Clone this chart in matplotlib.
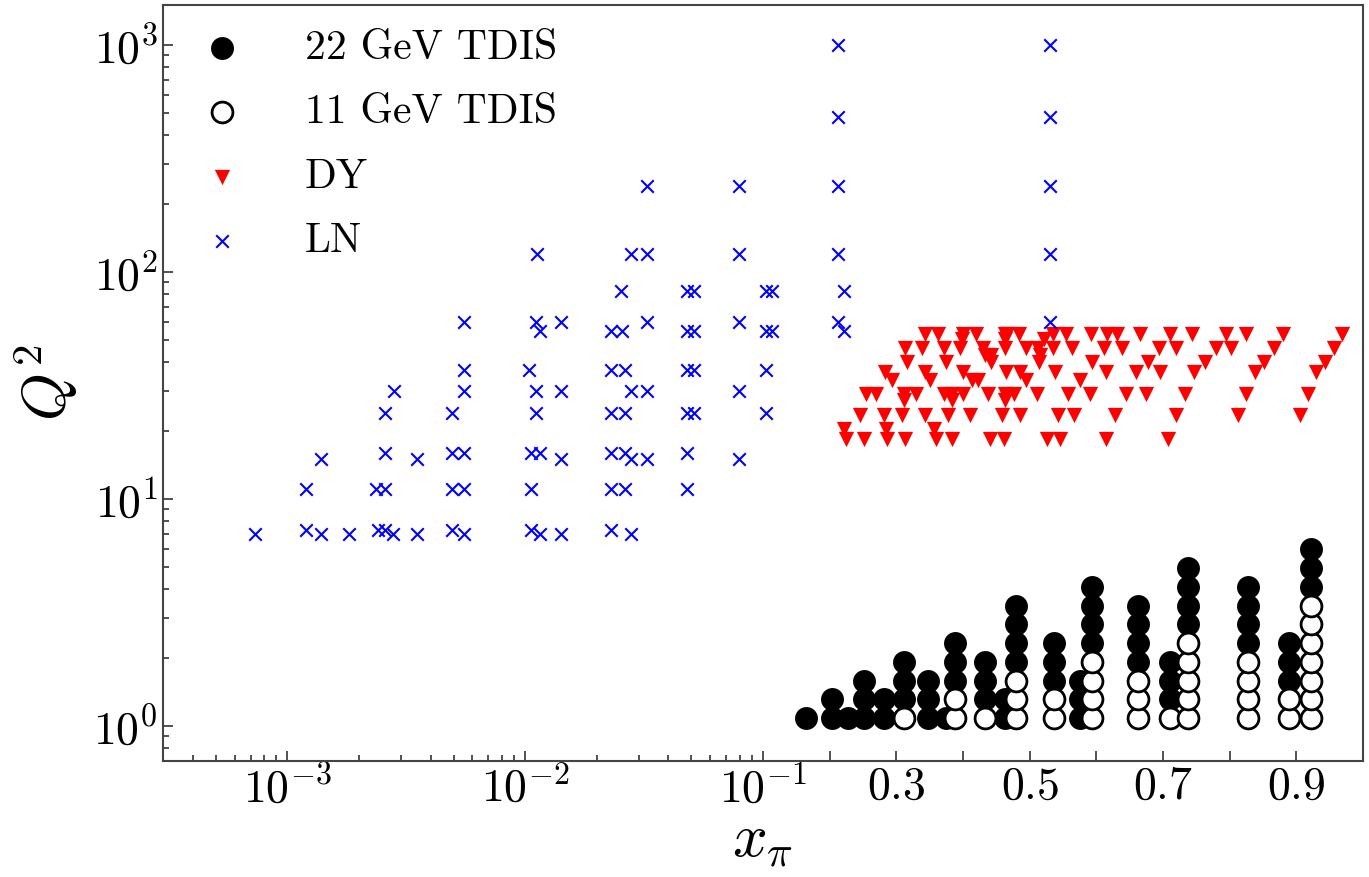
import numpy as np
import matplotlib.pyplot as plt
from matplotlib.ticker import FixedLocator, FixedFormatter

# Q2 levels of the TDIS bins (bottom to top)
q2_rows = [1.08, 1.31, 1.58, 1.91, 2.31, 2.80, 3.39, 4.10, 4.96, 6.0]

# 22 GeV TDIS (filled): x and row index
tdis22_x = [0.164, 0.203, 0.203, 0.227, 0.251, 0.251, 0.251, 0.281, 0.281,
            0.312, 0.312, 0.312, 0.348, 0.348, 0.348, 0.374, 0.388, 0.388, 0.388,
            0.433, 0.433, 0.433, 0.463, 0.463, 0.479, 0.479, 0.479, 0.479,
            0.536, 0.536, 0.536, 0.576, 0.576, 0.576, 0.594, 0.594, 0.594, 0.594,
            0.663, 0.663, 0.663, 0.663, 0.710, 0.710, 0.710, 0.738, 0.738, 0.738, 0.738,
            0.828, 0.828, 0.828, 0.828, 0.889, 0.889, 0.889, 0.922, 0.922, 0.922]
tdis22_r = [0, 0, 1, 0, 0, 1, 2, 0, 1,
            1, 2, 3, 0, 1, 2, 0, 2, 3, 4,
            1, 2, 3, 0, 1, 3, 4, 5, 6,
            2, 3, 4, 0, 1, 2, 4, 5, 6, 7,
            3, 4, 5, 6, 1, 2, 3, 5, 6, 7, 8,
            4, 5, 6, 7, 2, 3, 4, 7, 8, 9]

# 11 GeV TDIS (open)
tdis11_x = [0.312, 0.388, 0.388, 0.433, 0.479, 0.479, 0.479, 0.536, 0.536,
            0.594, 0.594, 0.594, 0.594, 0.663, 0.663, 0.663, 0.710,
            0.738, 0.738, 0.738, 0.738, 0.738, 0.828, 0.828, 0.828, 0.828,
            0.889, 0.889, 0.922, 0.922, 0.922, 0.922, 0.922, 0.922, 0.922]
tdis11_r = [0, 0, 1, 0, 0, 1, 2, 0, 1,
            0, 1, 2, 3, 0, 1, 2, 0,
            0, 1, 2, 3, 4, 0, 1, 2, 3,
            0, 1, 0, 1, 2, 3, 4, 5, 6]

# Drell-Yan
dy_x = [0.343, 0.363, 0.400, 0.419, 0.463, 0.466, 0.484, 0.535, 0.555, 0.592, 0.616,
        0.631, 0.665, 0.711, 0.743, 0.794, 0.825, 0.880, 0.969,
        0.399, 0.463, 0.521,
        0.313, 0.339, 0.372, 0.396, 0.430, 0.463, 0.494, 0.512, 0.535, 0.563, 0.612,
        0.639, 0.694, 0.719, 0.779, 0.802, 0.866, 0.956,
        0.433, 0.442, 0.515,
        0.316, 0.374, 0.442, 0.514, 0.593, 0.677, 0.763, 0.851, 0.943,
        0.283, 0.343, 0.400, 0.464, 0.486, 0.538, 0.614, 0.660, 0.696, 0.747,
        0.838, 0.929,
        0.293, 0.351, 0.413, 0.422, 0.495, 0.575,
        0.254, 0.269, 0.312, 0.329, 0.371, 0.384, 0.400, 0.438, 0.463, 0.476, 0.511,
        0.558, 0.591, 0.644, 0.674, 0.733, 0.825, 0.918,
        0.312, 0.384, 0.463,
        0.246, 0.282, 0.309, 0.343, 0.378, 0.411, 0.458, 0.485, 0.542, 0.567, 0.628,
        0.719, 0.812, 0.906,
        0.222, 0.285, 0.357,
        0.224, 0.252, 0.286, 0.313, 0.360, 0.383, 0.440, 0.462, 0.526, 0.545, 0.615,
        0.707]
dy_q2 = [53.5] * 19 + [50.5] * 3 + [46.0] * 18 + [43.0] * 3 + [40.0] * 9 + \
        [36.3] * 12 + [33.3] * 6 + [29.0] * 18 + [27.2] * 3 + [23.4] * 14 + \
        [20.4] * 3 + [18.3] * 12

# leading neutron
ln_x = [7.3e-4, 1.20e-3, 1.20e-3, 1.39e-3, 1.39e-3, 1.82e-3, 2.37e-3, 2.41e-3,
        2.58e-3, 2.58e-3, 2.58e-3, 2.58e-3, 2.79e-3, 2.81e-3, 3.52e-3, 3.52e-3,
        4.93e-3, 4.93e-3, 4.93e-3, 4.93e-3,
        5.55e-3, 5.55e-3, 5.55e-3, 5.55e-3, 5.55e-3, 5.55e-3,
        0.0104, 0.0106, 0.0106, 0.0106, 0.0111, 0.0111, 0.0111, 0.0112, 0.0115,
        0.0115, 0.0115,
        0.0142, 0.0142, 0.0142, 0.0142,
        0.0230, 0.0230, 0.0230, 0.0230, 0.0230, 0.0230, 0.0252, 0.0256,
        0.0263, 0.0263, 0.0263, 0.0263,
        0.0279, 0.0279, 0.0279, 0.0279,
        0.0326, 0.0326, 0.0326, 0.0326, 0.0326,
        0.048, 0.048, 0.048, 0.048, 0.048, 0.048, 0.0513, 0.0513, 0.0513, 0.0513,
        0.0793, 0.0793, 0.0793, 0.0793, 0.0793,
        0.105, 0.105, 0.105, 0.105, 0.114, 0.114,
        0.212, 0.212, 0.212, 0.212, 0.212, 0.222, 0.222,
        0.530, 0.530, 0.530, 0.530, 0.530]
ln_q2 = [7.0, 11.0, 7.3, 15.0, 7.0, 7.0, 11.0, 7.3,
         24.0, 16.0, 11.0, 7.3, 7.0, 30.0, 15.0, 7.0,
         24.0, 16.0, 11.0, 7.3,
         60.0, 37.0, 30.0, 16.0, 11.0, 7.0,
         37.0, 16.0, 11.0, 7.3, 60.0, 30.0, 24.0, 120.0, 55.0,
         16.0, 7.0,
         60.0, 30.0, 15.0, 7.0,
         55.0, 37.0, 24.0, 16.0, 11.0, 7.3, 82.0, 55.0,
         37.0, 24.0, 16.0, 11.0,
         120.0, 30.0, 15.0, 7.0,
         240.0, 120.0, 60.0, 30.0, 15.0,
         82.0, 55.0, 37.0, 24.0, 16.0, 11.0, 82.0, 55.0, 37.0, 24.0,
         240.0, 120.0, 60.0, 30.0, 15.0,
         82.0, 55.0, 37.0, 24.0, 82.0, 55.0,
         1000.0, 480.0, 240.0, 120.0, 60.0, 82.0, 55.0,
         1000.0, 480.0, 240.0, 120.0, 60.0]

# x axis: log up to 0.1, linear from 0.1 to 1
X_LO, X_MID, X_HI = 3e-4, 0.1, 1.0
LOG_SPAN = np.log10(X_MID) - np.log10(X_LO)


def fwd(x):
    x = np.asarray(x, dtype=float)
    lg = np.log10(np.clip(x, 1e-12, None))
    return np.where(x <= X_MID,
                    0.5 * (lg - np.log10(X_LO)) / LOG_SPAN,
                    0.5 + 0.5 * (x - X_MID) / (X_HI - X_MID))


def inv(u):
    u = np.asarray(u, dtype=float)
    return np.where(u <= 0.5,
                    10 ** (np.log10(X_LO) + 2 * u * LOG_SPAN),
                    X_MID + (2 * u - 1) * (X_HI - X_MID))


plt.rcParams['mathtext.fontset'] = 'cm'
plt.rcParams['font.family'] = 'serif'
plt.rcParams['font.serif'] = ['cmr10', 'DejaVu Serif']
plt.rcParams['axes.formatter.use_mathtext'] = True

fig = plt.figure(figsize=(13.69, 8.77), dpi=100)
ax = fig.add_axes([163 / 1369, 1 - 761 / 877, 1200 / 1369, 756 / 877])

ax.scatter(tdis22_x, [q2_rows[r] for r in tdis22_r], s=15 ** 2, c='black',
           edgecolors='black', linewidths=1.5, label='22 GeV TDIS', zorder=3)
ax.scatter(tdis11_x, [q2_rows[r] for r in tdis11_r], s=15 ** 2, c='white',
           edgecolors='black', linewidths=2, label='11 GeV TDIS', zorder=4)
ax.scatter(dy_x, dy_q2, s=11 ** 2, marker='v', c='red', linewidths=0,
           label='DY', zorder=3)
ax.scatter(ln_x, ln_q2, s=9 ** 2, marker='x', c='blue', linewidths=1.5,
           label='LN', zorder=3)

ax.set_xscale('function', functions=(fwd, inv))
ax.set_yscale('log')
ax.set_xlim(X_LO, X_HI)
ax.set_ylim(0.7, 1500)

major = [1e-3, 1e-2, 1e-1, 0.2, 0.3, 0.4, 0.5, 0.6, 0.7, 0.8, 0.9]
labels = [r'$10^{-3}$', r'$10^{-2}$', r'$10^{-1}$', '', r'$0.3$', '', r'$0.5$',
          '', r'$0.7$', '', r'$0.9$']
minor = [k * 10.0 ** d for d in (-4, -3, -2) for k in range(2, 10)]
minor = [m for m in minor if X_LO <= m < X_MID]
ax.xaxis.set_major_locator(FixedLocator(major))
ax.xaxis.set_major_formatter(FixedFormatter(labels))
ax.xaxis.set_minor_locator(FixedLocator(minor))

ax.tick_params(which='both', direction='in', top=False, right=False,
               labelsize=33, width=1.2, color='#333333')
ax.tick_params(which='major', length=7)
ax.tick_params(which='minor', length=4)
for sp in ax.spines.values():
    sp.set_linewidth(1.5)
    sp.set_color('#444444')

ax.set_xlabel(r'$x_\pi$', fontsize=44, labelpad=2)
ax.set_ylabel(r'$Q^2$', fontsize=44, labelpad=10)

ax.legend(loc='upper left', bbox_to_anchor=(0.0178, 0.990), frameon=False,
          fontsize=30, handlelength=1.0, handletextpad=1.49, labelspacing=0.65,
          borderaxespad=0, scatterpoints=1)

fig.savefig('out.png', dpi=100)
